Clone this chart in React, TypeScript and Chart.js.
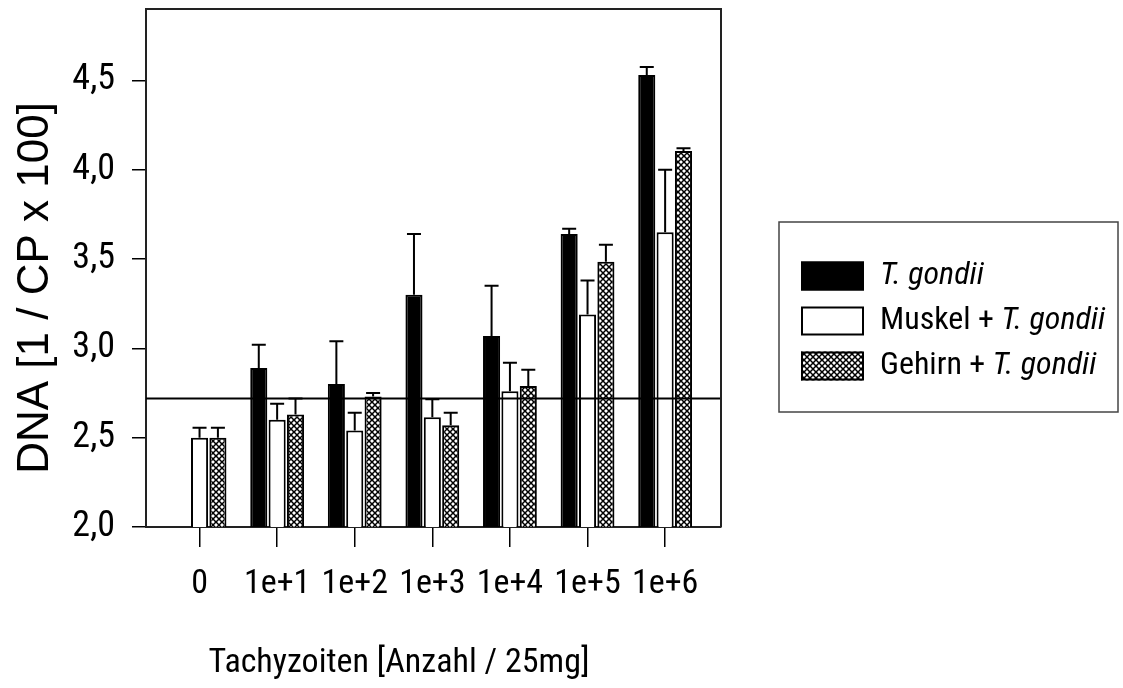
import React, { useEffect, useRef } from 'react';
import { Chart, registerables } from 'chart.js';

Chart.register(...registerables);

// ---- data ----
const categories = ['0', '1e+1', '1e+2', '1e+3', '1e+4', '1e+5', '1e+6'];
const tGondii = [null, 2.89, 2.8, 3.3, 3.07, 3.64, 4.53];
const tGondiiErr = [null, 0.13, 0.24, 0.34, 0.28, 0.03, 0.045];
const muskel = [2.5, 2.6, 2.54, 2.615, 2.76, 3.19, 3.65];
const muskelErr = [0.055, 0.09, 0.1, 0.1, 0.16, 0.19, 0.35];
const gehirn = [2.5, 2.63, 2.73, 2.57, 2.79, 3.485, 4.105];
const gehirnErr = [0.055, 0.09, 0.02, 0.07, 0.09, 0.095, 0.015];
const yTicks = [2.0, 2.5, 3.0, 3.5, 4.0, 4.5];
const referenceLine = 2.72;
const seriesLabels = ['T. gondii', 'Muskel + T. gondii', 'Gehirn + T. gondii'];
const legendParts = [
  [{ text: 'T. gondii', italic: true }],
  [{ text: 'Muskel + ', italic: false }, { text: 'T. gondii', italic: true }],
  [{ text: 'Gehirn + ', italic: false }, { text: 'T. gondii', italic: true }],
];
const xTitle = 'Tachyzoiten [Anzahl / 25mg]';
const yTitle = 'DNA [1 / CP x 100]';

const NARROW = "'Roboto Condensed', 'Liberation Sans', Arial, sans-serif";
const WIDE = "'Liberation Sans', Arial, sans-serif";

function toPoints(vals: (number | null)[], errs: (number | null)[]) {
  const pts: { x: number; y: number; err: number }[] = [];
  vals.forEach((v, i) => {
    if (v !== null) pts.push({ x: i, y: v, err: errs[i] ?? 0 });
  });
  return pts;
}

function makeHatch(): CanvasPattern | string {
  const s = 6;
  const c = document.createElement('canvas');
  c.width = s;
  c.height = s;
  const g = c.getContext('2d');
  if (!g) return '#888';
  g.fillStyle = '#fff';
  g.fillRect(0, 0, s, s);
  g.strokeStyle = '#000';
  g.lineWidth = 1.5;
  g.beginPath();
  g.moveTo(-1, -1);
  g.lineTo(s + 1, s + 1);
  g.moveTo(s + 1, -1);
  g.lineTo(-1, s + 1);
  g.stroke();
  return g.createPattern(c, 'repeat') || '#888';
}

export default function App() {
  const ref = useRef<HTMLCanvasElement | null>(null);

  useEffect(() => {
    const canvas = ref.current;
    if (!canvas) return;
    const hatch = makeHatch();
    const fills: any[] = ['#000', '#fff', hatch];

    const overlay = {
      id: 'overlay',
      afterDatasetsDraw(chart: any) {
        const { ctx, chartArea } = chart;
        const y = chart.scales.y;
        ctx.save();
        chart.data.datasets.forEach((ds: any, di: number) => {
          const meta = chart.getDatasetMeta(di);
          meta.data.forEach((el: any, i: number) => {
            const p = ds.data[i];
            if (!p || !p.err) return;
            const top = y.getPixelForValue(p.y + p.err);
            ctx.strokeStyle = '#000';
            ctx.lineWidth = 2;
            ctx.beginPath();
            ctx.moveTo(el.x, el.y);
            ctx.lineTo(el.x, top);
            ctx.moveTo(el.x - 7, top);
            ctx.lineTo(el.x + 7, top);
            ctx.stroke();
          });
        });
        const ry = y.getPixelForValue(referenceLine);
        ctx.strokeStyle = '#000';
        ctx.lineWidth = 2;
        ctx.beginPath();
        ctx.moveTo(chartArea.left, ry);
        ctx.lineTo(chartArea.right, ry);
        ctx.stroke();
        ctx.restore();
      },
      afterDraw(chart: any) {
        const { ctx, chartArea } = chart;
        ctx.save();
        ctx.strokeStyle = '#222';
        ctx.lineWidth = 2;
        ctx.beginPath();
        ctx.moveTo(chartArea.left, chartArea.top);
        ctx.lineTo(chartArea.right, chartArea.top);
        ctx.lineTo(chartArea.right, chartArea.bottom);
        ctx.stroke();

        // axis titles
        ctx.fillStyle = '#000';
        ctx.font = `34px ${NARROW}`;
        ctx.textAlign = 'center';
        ctx.textBaseline = 'alphabetic';
        ctx.fillText(xTitle, 399, 672);
        ctx.save();
        ctx.translate(48, 288);
        ctx.rotate(-Math.PI / 2);
        ctx.font = `44px ${WIDE}`;
        ctx.fillText(yTitle, 0, 0);
        ctx.restore();

        // legend
        ctx.strokeStyle = '#444';
        ctx.lineWidth = 1.5;
        ctx.strokeRect(779, 222, 339, 190);
        const rows = [276, 321, 366];
        rows.forEach((cy, i) => {
          ctx.fillStyle = fills[i];
          ctx.fillRect(801, cy - 14.5, 63, 29);
          ctx.strokeStyle = '#000';
          ctx.lineWidth = 2;
          ctx.strokeRect(802, cy - 13.5, 61, 27);
          let x = 880;
          ctx.fillStyle = '#000';
          ctx.textAlign = 'left';
          ctx.textBaseline = 'middle';
          legendParts[i].forEach((part) => {
            ctx.font = `${part.italic ? 'italic ' : ''}32px ${NARROW}`;
            ctx.fillText(part.text, x, cy);
            x += ctx.measureText(part.text).width;
          });
        });
        ctx.restore();
      },
    };

    const chart = new Chart(canvas, {
      type: 'bar',
      data: {
        datasets: [
          { label: seriesLabels[0], data: toPoints(tGondii, tGondiiErr), backgroundColor: '#000', borderColor: '#000', borderWidth: 2 },
          { label: seriesLabels[1], data: toPoints(muskel, muskelErr), backgroundColor: '#fff', borderColor: '#000', borderWidth: 2 },
          { label: seriesLabels[2], data: toPoints(gehirn, gehirnErr), backgroundColor: hatch, borderColor: '#000', borderWidth: 2 },
        ] as any,
      },
      options: {
        responsive: false,
        animation: false,
        datasets: { bar: { categoryPercentage: 0.71, barPercentage: 0.93 } },
        layout: { padding: { left: 0, right: 402, top: 9, bottom: 0 } },
        plugins: { legend: { display: false }, tooltip: { enabled: false } },
        scales: {
          x: {
            type: 'linear',
            offset: false,
            min: -0.69,
            max: 6.72,
            afterBuildTicks: (s: any) => {
              s.ticks = categories.map((_, i) => ({ value: i }));
            },
            afterFit: (s: any) => {
              s.height = 161;
              s.paddingLeft = 0;
              s.paddingRight = 0;
            },
            ticks: {
              callback: (v: any) => categories[v as number] ?? '',
              font: { family: NARROW, size: 34 },
              color: '#000',
              padding: 17,
              autoSkip: false,
              maxRotation: 0,
            },
            grid: { offset: false, drawOnChartArea: false, drawTicks: true, tickLength: 20, color: '#000', lineWidth: 1.5 },
            border: { display: true, color: '#222', width: 2 },
          },
          y: {
            min: 2,
            max: 4.9,
            afterBuildTicks: (s: any) => {
              s.ticks = yTicks.map((v) => ({ value: v }));
            },
            afterFit: (s: any) => {
              s.width = 146;
              s.paddingTop = 0;
              s.paddingBottom = 0;
            },
            ticks: {
              callback: (v: any) => Number(v).toFixed(1).replace('.', ','),
              font: { family: NARROW, size: 36 },
              color: '#000',
              padding: 17,
            },
            grid: { drawOnChartArea: false, drawTicks: true, tickLength: 14, color: '#000', lineWidth: 1.5 },
            border: { display: true, color: '#222', width: 2 },
          },
        },
      } as any,
      plugins: [overlay],
    });
    return () => chart.destroy();
  }, []);

  return (
    <div style={{ position: 'fixed', left: 0, top: 0, width: 1123, height: 688, background: '#fff' }}>
      <canvas ref={ref} width={1123} height={688} style={{ display: 'block' }} />
    </div>
  );
}
